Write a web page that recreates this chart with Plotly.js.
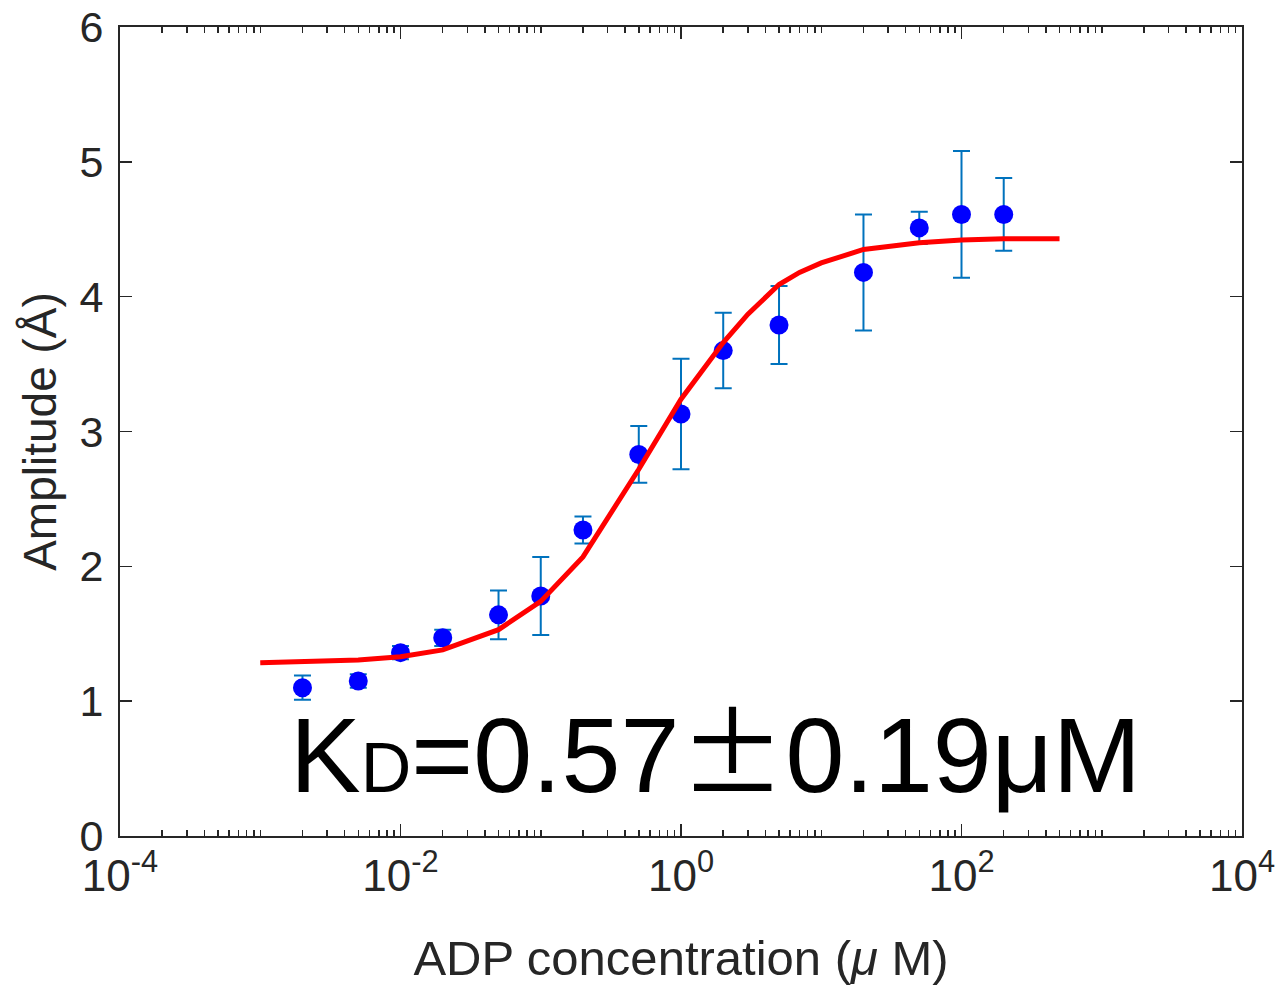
<!DOCTYPE html>
<html>
<head>
<meta charset="utf-8">
<script src="https://cdn.plot.ly/plotly-3.0.1.min.js"></script>
<style>html,body{margin:0;padding:0;background:#fff;}#chart{width:1286px;height:989px;}</style>
</head>
<body>
<div id="chart"></div>
<script>
// Measured data (ADP concentration in µM, amplitude in Å)
const concentration = [0.002, 0.005, 0.01, 0.02, 0.05, 0.1, 0.2, 0.5, 1, 2, 5, 20, 50, 100, 200];
const amplitude     = [1.10, 1.15, 1.36, 1.47, 1.64, 1.78, 2.27, 2.83, 3.13, 3.60, 3.79, 4.18, 4.51, 4.61, 4.61];
const amplitudeErr  = [0.09, 0.05, 0.05, 0.06, 0.18, 0.29, 0.10, 0.21, 0.41, 0.28, 0.29, 0.43, 0.12, 0.47, 0.27];

// Fitted curve
const fitX = [0.001, 0.002, 0.005, 0.01, 0.02, 0.05, 0.1, 0.2, 0.5, 1, 2, 3, 5, 7, 10, 20, 50, 100, 200, 500];
const fitY = [1.285, 1.295, 1.305, 1.33, 1.38, 1.53, 1.74, 2.07, 2.72, 3.24, 3.66, 3.87, 4.09, 4.18, 4.25, 4.35, 4.40, 4.42, 4.43, 4.43];

const xTickVals = [1e-4, 1e-2, 1, 1e2, 1e4];
const xTickText = ['10<sup>-4</sup>', '10<sup>-2</sup>', '10<sup>0</sup>', '10<sup>2</sup>', '10<sup>4</sup>'];
const yTickVals = [0, 1, 2, 3, 4, 5, 6];

const axisColor = '#262626';
const font = 'Liberation Sans, Arial, Helvetica, sans-serif';

const traces = [
  {
    x: concentration, y: amplitude, type: 'scatter', mode: 'markers',
    marker: {color: '#0000ff', size: 19},
    error_y: {type: 'data', array: amplitudeErr, visible: true, color: '#0072bd', thickness: 2, width: 8.5},
    showlegend: false
  },
  {
    x: fitX, y: fitY, type: 'scatter', mode: 'lines',
    line: {color: '#ff0000', width: 5},
    showlegend: false
  }
];

const layout = {
  width: 1286, height: 989,
  margin: {l: 120, r: 44, t: 27, b: 153},
  paper_bgcolor: '#fff', plot_bgcolor: '#fff',
  font: {family: font, color: axisColor},
  xaxis: {
    type: 'log', range: [-4, 4],
    tickvals: xTickVals, ticktext: xTickText,
    ticks: 'inside', ticklen: 12, tickwidth: 1.5, tickcolor: axisColor,
    minor: {dtick: 'D1', ticks: 'inside', ticklen: 6, tickwidth: 1.5, tickcolor: axisColor},
    showline: true, linecolor: axisColor, linewidth: 2, mirror: 'ticks',
    showgrid: false, zeroline: false,
    tickfont: {size: 44, color: axisColor, family: font},
    ticklabelstandoff: 0,
    title: {text: 'ADP concentration (<i>μ</i> M)', font: {size: 49, color: axisColor, family: font}, standoff: 42}
  },
  yaxis: {
    range: [0, 6],
    tickvals: yTickVals,
    ticks: 'inside', ticklen: 12, tickwidth: 1.5, tickcolor: axisColor,
    showline: true, linecolor: axisColor, linewidth: 2, mirror: 'ticks',
    showgrid: false, zeroline: false,
    tickfont: {size: 43, color: axisColor, family: font},
    ticklabelstandoff: 6,
    title: {text: 'Amplitude (Å)', font: {size: 46, color: axisColor, family: font}, standoff: 8}
  },
  annotations: [{
    xref: 'paper', yref: 'paper', x: 0.531, y: 0.111, xanchor: 'center', yanchor: 'middle',
    text: 'K<span style="font-size:70px">D</span>=0.57<span style="font-family:Noto Sans CJK SC">±</span>0.19μM',
    showarrow: false,
    font: {size: 106, color: '#000', family: font}
  }]
};

Plotly.newPlot('chart', traces, layout, {displayModeBar: false, staticPlot: true});
</script>
</body>
</html>
